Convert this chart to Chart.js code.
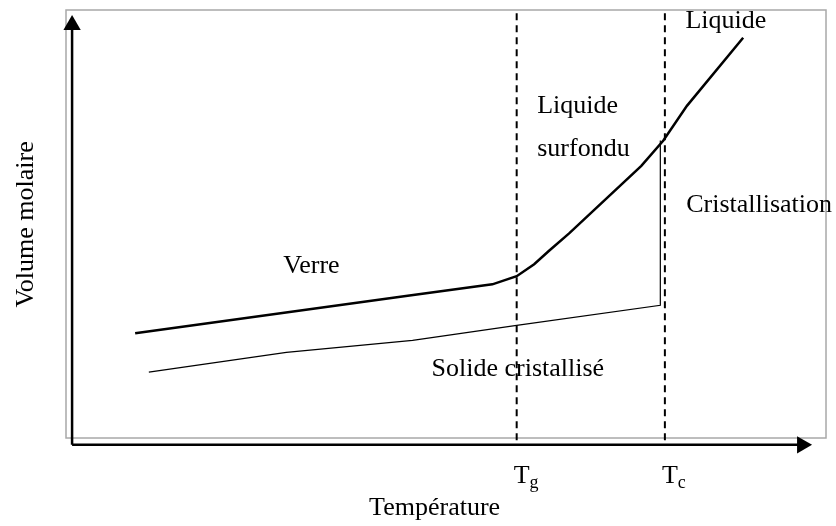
<!DOCTYPE html>
<html lang="fr">
<head>
  <meta charset="UTF-8">
  <title>Volume molaire en fonction de la température</title>
  <script src="https://cdn.jsdelivr.net/npm/chart.js"></script>
  <style>
    html, body { margin: 0; padding: 0; background: #fff; }
    #wrap { width: 836px; height: 526px; }
  </style>
</head>
<body>
  <div id="wrap"><canvas id="chart" width="836" height="526"></canvas></div>

  <script>
    // Values in arbitrary units: temperature 0-100, molar volume 0-100
    const verreX  = [9.1, 45.2, 56.1, 59.3, 61.6, 63.6, 66.2, 75.7, 78.6, 81.7, 89.1];
    const verreY  = [24.5, 33.3, 35.9, 37.8, 40.6, 43.8, 47.8, 63.6, 69.5, 77.6, 93.5];
    const solideX = [10.9, 29.0, 45.6, 59.3, 78.2, 78.2];
    const solideY = [15.4, 20.0, 22.8, 26.3, 31.0, 69.5];
    const tempMarks = [59.3, 78.8];          // Tg, Tc
    const markNames = ['g', 'c'];            // subscripts of T

    // axis arrows (origin and arrow-head centre)
    const axisOrigin = { x: 0.8, y: -1.6 };
    const axisEnd = { x: 96.85, y: 96.5 };

    const toPoints = (xs, ys) => xs.map((v, i) => ({ x: v, y: ys[i] }));

    // annotation texts, in data units
    const notes = [
      { text: 'Verre', x: 32.3, y: 38.5, align: 'center' },
      { text: 'Liquide', x: 62.0, y: 76.0, align: 'left' },
      { text: 'surfondu', x: 62.0, y: 66.0, align: 'left' },
      { text: 'Liquide', x: 81.5, y: 95.8, align: 'left' },
      { text: 'Cristallisation', x: 81.6, y: 52.9, align: 'left' },
      { text: 'Solide cristallisé', x: 48.1, y: 14.5, align: 'left' },
      { text: 'Température', x: 48.5, y: -17.9, align: 'center' }
    ];
    const yTitle = { text: 'Volume molaire', x: -4.3, y: 49.9 };

    const datasets = [
      {
        data: toPoints(verreX, verreY),
        borderColor: '#000', borderWidth: 2.5, pointRadius: 0
      },
      {
        data: toPoints(solideX, solideY),
        borderColor: '#000', borderWidth: 1.2, pointRadius: 0
      }
    ];
    tempMarks.forEach(t => {
      datasets.push({
        data: [{ x: t, y: -0.5 }, { x: t, y: 99.8 }],
        borderColor: '#000', borderWidth: 2, borderDash: [7, 5], pointRadius: 0
      });
    });
    // axes with arrow heads
    datasets.push({
      data: [axisOrigin, { x: axisOrigin.x, y: axisEnd.y }],
      borderColor: '#000', borderWidth: 2.5,
      pointRadius: [0, 10], pointStyle: 'triangle', rotation: 0,
      pointBackgroundColor: '#000', pointBorderWidth: 0
    });
    datasets.push({
      data: [axisOrigin, { x: axisEnd.x, y: axisOrigin.y }],
      borderColor: '#000', borderWidth: 2.5,
      pointRadius: [0, 10], pointStyle: 'triangle', rotation: 90,
      pointBackgroundColor: '#000', pointBorderWidth: 0
    });

    const decor = {
      id: 'decor',
      beforeDatasetsDraw(chart) {
        const { ctx, chartArea: a } = chart;
        ctx.save();
        ctx.strokeStyle = '#a8a8a8';
        ctx.lineWidth = 1.5;
        ctx.strokeRect(a.left, a.top, a.right - a.left, a.bottom - a.top);
        ctx.restore();
      },
      afterDraw(chart) {
        const { ctx, scales: { x, y } } = chart;
        ctx.save();
        ctx.fillStyle = '#000';
        ctx.textBaseline = 'alphabetic';
        ctx.font = '26px "Liberation Serif", "Times New Roman", serif';
        notes.forEach(n => {
          ctx.textAlign = n.align;
          ctx.fillText(n.text, x.getPixelForValue(n.x), y.getPixelForValue(n.y));
        });

        // T with subscript under each dashed line
        tempMarks.forEach((t, i) => {
          const px = x.getPixelForValue(t) - 3;
          const py = y.getPixelForValue(-10.5);
          ctx.textAlign = 'left';
          ctx.font = '26px "Liberation Serif", "Times New Roman", serif';
          ctx.fillText('T', px, py);
          const w = ctx.measureText('T').width;
          ctx.font = '18px "Liberation Serif", "Times New Roman", serif';
          ctx.fillText(markNames[i], px + w, py + 5);
        });

        // rotated y title
        ctx.font = '26px "Liberation Serif", "Times New Roman", serif';
        ctx.translate(x.getPixelForValue(yTitle.x), y.getPixelForValue(yTitle.y));
        ctx.rotate(-Math.PI / 2);
        ctx.textAlign = 'center';
        ctx.fillText(yTitle.text, 0, 0);
        ctx.restore();
      }
    };

    new Chart(document.getElementById('chart'), {
      type: 'scatter',
      data: { datasets: datasets.map(d => Object.assign({ showLine: true, clip: false, tension: 0 }, d)) },
      options: {
        responsive: false,
        animation: false,
        events: [],
        layout: { padding: { left: 66, right: 9, top: 9, bottom: 88 } },
        scales: {
          x: { type: 'linear', min: 0, max: 100, display: false },
          y: { type: 'linear', min: 0, max: 100, display: false }
        },
        plugins: {
          legend: { display: false },
          tooltip: { enabled: false }
        }
      },
      plugins: [decor]
    });
  </script>
</body>
</html>
